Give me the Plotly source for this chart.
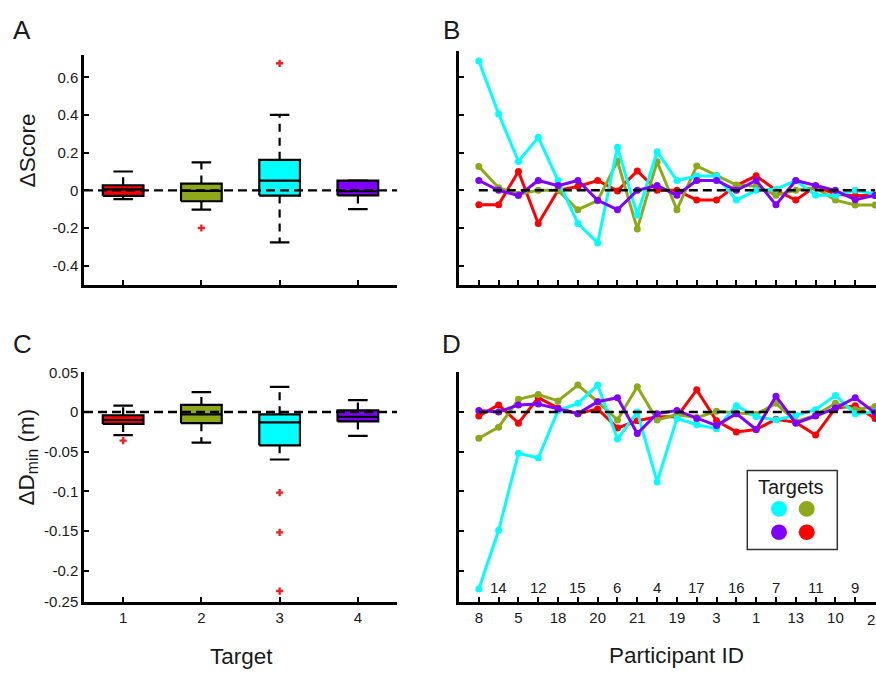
import plotly.graph_objects as go

# ---------------------------------------------------------------- data
targets = [1, 2, 3, 4]
target_colors = ["#FF0000", "#8FA81A", "#00FFFF", "#7F00FF"]

# Box statistics per target: delta score
score_lower = [-0.047, -0.102, -0.276, -0.100]
score_q1 = [-0.029, -0.058, -0.028, -0.027]
score_median = [0.005, -0.003, 0.052, -0.005]
score_q3 = [0.027, 0.036, 0.162, 0.052]
score_upper = [0.100, 0.148, 0.400, 0.052]
score_outliers = [[], [-0.200], [0.674], []]

# Box statistics per target: delta minimum distance (m)
dmin_lower = [-0.029, -0.0386, -0.0598, -0.030]
dmin_q1 = [-0.015, -0.014, -0.0419, -0.0118]
dmin_median = [-0.010, -0.003, -0.013, -0.006]
dmin_q3 = [-0.004, 0.009, -0.0028, 0.002]
dmin_upper = [0.008, 0.025, 0.0317, 0.015]
dmin_outliers = [[-0.036], [], [-0.1016, -0.1516, -0.2256], []]

participants = ["8", "14", "5", "12", "18", "15", "20", "6", "21", "4", "19",
                "17", "3", "16", "1", "7", "13", "11", "10", "9", "2"]

# Per-participant delta score, one list per target
score_t1 = [-0.076, -0.076, 0.100, -0.176, 0.000, 0.020, 0.052, -0.003, 0.103, 0.000, 0.000,
            -0.052, -0.052, 0.025, 0.077, 0.000, -0.052, 0.022, -0.021, -0.029, -0.026]
score_t2 = [0.126, 0.014, -0.021, 0.000, 0.000, -0.103, -0.055, 0.155, -0.205, 0.152, -0.103,
            0.129, 0.079, 0.028, 0.022, -0.026, 0.000, 0.014, -0.052, -0.078, -0.078]
score_t3 = [0.686, 0.405, 0.153, 0.281, 0.052, -0.176, -0.279, 0.229, -0.131, 0.205, 0.052,
            0.076, 0.076, -0.052, 0.000, 0.005, 0.052, -0.026, -0.026, 0.000, -0.021]
score_t4 = [0.052, 0.000, -0.028, 0.052, 0.025, 0.052, -0.053, -0.103, 0.000, 0.025, -0.026,
            0.052, 0.052, 0.000, 0.052, -0.077, 0.052, 0.025, 0.000, -0.050, -0.027]

# Per-participant delta minimum distance (m), one list per target
dmin_t1 = [-0.005, 0.009, -0.014, 0.018, 0.005, -0.002, 0.004, -0.020, -0.011, -0.006, -0.006,
           0.028, -0.011, -0.025, -0.022, -0.009, -0.013, -0.029, 0.005, 0.008, -0.008]
dmin_t2 = [-0.033, -0.019, 0.016, 0.022, 0.014, 0.034, 0.013, -0.010, 0.032, -0.010, -0.003,
           -0.007, 0.001, -0.001, -0.003, 0.011, -0.012, -0.004, 0.011, 0.003, 0.007]
dmin_t3 = [-0.223, -0.149, -0.052, -0.058, 0.002, 0.011, 0.034, -0.034, 0.000, -0.088, -0.008,
           -0.016, -0.021, 0.008, -0.006, -0.010, -0.004, 0.003, 0.021, -0.002, 0.000]
dmin_t4 = [0.002, 0.000, 0.009, 0.010, 0.004, -0.002, 0.013, 0.018, -0.027, -0.002, 0.002,
           -0.008, -0.017, -0.002, -0.022, 0.020, -0.014, -0.005, 0.005, 0.018, -0.001]

score_ticks = [-0.4, -0.2, 0, 0.2, 0.4, 0.6]
score_ticktext = ["-0.4", "-0.2", "0", "0.2", "0.4", "0.6"]
dmin_ticks = [0.05, 0, -0.05, -0.1, -0.15, -0.2]
dmin_ticktext = ["0.05", "0", "-0.05", "-0.1", "-0.15", "-0.2"]

# ---------------------------------------------------------------- layout helpers
W, H = 876, 680
FONT = "Liberation Sans, Arial, sans-serif"
TXT = "#1a1a1a"
ZERO_DASH = "9px,5px"


def px(x):
    return x / W


def py(y):
    return 1 - y / H


fig = go.Figure()

BOX_HW = 0.26
CAP_HW = 0.125


def add_boxes(xa, ya, lower, q1, med, q3, upper, outliers):
    for i, t in enumerate(targets):
        c = target_colors[i]
        # whiskers (dashed)
        fig.add_trace(go.Scatter(x=[t, t, None, t, t], y=[q3[i], upper[i], None, q1[i], lower[i]],
                                 mode="lines", line=dict(color="black", width=2.2, dash="8px,6px"),
                                 xaxis=xa, yaxis=ya, hoverinfo="skip", showlegend=False))
        # caps
        fig.add_trace(go.Scatter(x=[t - CAP_HW, t + CAP_HW, None, t - CAP_HW, t + CAP_HW],
                                 y=[upper[i], upper[i], None, lower[i], lower[i]],
                                 mode="lines", line=dict(color="black", width=2.2),
                                 xaxis=xa, yaxis=ya, hoverinfo="skip", showlegend=False))
        # box
        fig.add_trace(go.Scatter(x=[t - BOX_HW, t + BOX_HW, t + BOX_HW, t - BOX_HW, t - BOX_HW],
                                 y=[q1[i], q1[i], q3[i], q3[i], q1[i]],
                                 mode="lines", fill="toself", fillcolor=c,
                                 line=dict(color="black", width=2.2),
                                 xaxis=xa, yaxis=ya, hoverinfo="skip", showlegend=False))
        # median
        fig.add_trace(go.Scatter(x=[t - BOX_HW, t + BOX_HW], y=[med[i], med[i]],
                                 mode="lines", line=dict(color="black", width=2.2),
                                 xaxis=xa, yaxis=ya, hoverinfo="skip", showlegend=False))
        if outliers[i]:
            fig.add_trace(go.Scatter(x=[t] * len(outliers[i]), y=outliers[i], mode="markers",
                                     marker=dict(symbol="cross", size=6, color="#EE2222"),
                                     xaxis=xa, yaxis=ya, hoverinfo="skip", showlegend=False))
    fig.add_trace(go.Scatter(x=[0.5, 4.5], y=[0, 0], mode="lines",
                             line=dict(color="black", width=2.4, dash=ZERO_DASH),
                             xaxis=xa, yaxis=ya, hoverinfo="skip", showlegend=False))


def add_lines(xa, ya, series):
    xs = list(range(1, len(participants) + 1))
    for i in range(len(series)):
        fig.add_trace(go.Scatter(x=xs, y=series[i], mode="lines+markers",
                                 line=dict(color=target_colors[i], width=3),
                                 marker=dict(color=target_colors[i], size=7),
                                 xaxis=xa, yaxis=ya, hoverinfo="skip", showlegend=False))
    fig.add_trace(go.Scatter(x=[1, len(participants)], y=[0, 0], mode="lines",
                             line=dict(color="black", width=2.4, dash=ZERO_DASH),
                             xaxis=xa, yaxis=ya, hoverinfo="skip", showlegend=False))


add_boxes("x", "y", score_lower, score_q1, score_median, score_q3, score_upper, score_outliers)
add_lines("x2", "y2", [score_t1, score_t2, score_t3, score_t4])
add_boxes("x3", "y3", dmin_lower, dmin_q1, dmin_median, dmin_q3, dmin_upper, dmin_outliers)
add_lines("x4", "y4", [dmin_t1, dmin_t2, dmin_t3, dmin_t4])

# ---------------------------------------------------------------- axes
common = dict(showline=True, linecolor="black", linewidth=2.5, ticks="inside", ticklen=5,
              tickwidth=2, tickcolor="black", showgrid=False, zeroline=False,
              tickfont=dict(family=FONT, size=15, color=TXT))

left_dom = [px(84), px(397)]
right_dom = [px(459), 1.0]
top_dom_a = [py(283), py(47)]
top_dom_b = [py(283), py(43.3)]
bot_dom = [py(608.3), py(372.7)]

dmin_bottom = -0.2395
n_part = len(participants)
odd_pos = list(range(1, n_part + 1, 2))
even_pos = list(range(2, n_part + 1, 2))
# the last participant sits on the panel's right edge; its label is placed separately
below_pos = odd_pos[:-1]
edge_pos = odd_pos[-1]
minor_ticks = dict(ticks="inside", ticklen=5, tickwidth=2, tickcolor="black",
                   tickvals=even_pos + [edge_pos])

fig.update_layout(
    width=W, height=H, margin=dict(l=0, r=0, t=0, b=0),
    paper_bgcolor="white", plot_bgcolor="white",
    font=dict(family=FONT, color=TXT),
    xaxis=dict(common, domain=left_dom, anchor="y", range=[0.5, 4.5],
               tickvals=targets, showticklabels=False),
    yaxis=dict(common, domain=top_dom_a, anchor="x", range=[-0.502, 0.719],
               tickvals=score_ticks, ticktext=score_ticktext),
    xaxis2=dict(common, domain=right_dom, anchor="y2", range=[0, 21.05],
                tickvals=list(range(1, n_part + 1)), showticklabels=False),
    yaxis2=dict(common, domain=top_dom_b, anchor="x2", range=[-0.502, 0.738],
                tickvals=score_ticks, showticklabels=False),
    xaxis3=dict(common, domain=left_dom, anchor="y3", range=[0.5, 4.5],
                tickvals=targets, ticktext=[str(t) for t in targets]),
    yaxis3=dict(common, domain=bot_dom, anchor="x3", range=[dmin_bottom, 0.05],
                tickvals=dmin_ticks + [dmin_bottom], ticktext=dmin_ticktext + ["-0.25"]),
    xaxis4=dict(common, domain=right_dom, anchor="y4", range=[0, 21.05],
                tickvals=below_pos, ticktext=[participants[p - 1] for p in below_pos],
                minor=minor_ticks),
    yaxis4=dict(common, domain=bot_dom, anchor="x4", range=[dmin_bottom, 0.05],
                tickvals=dmin_ticks, showticklabels=False),
)

# ---------------------------------------------------------------- text
ann = []
for letter, (lx, ly) in zip("ABCD", [(21.5, 22), (451, 22), (22, 344), (451, 344)]):
    ann.append(dict(text=letter, x=px(lx), y=py(ly), xref="paper", yref="paper",
                    showarrow=False, xanchor="center", yanchor="middle",
                    font=dict(family=FONT, size=26, color=TXT)))

TITLE_SIZE = 22.5
ann.append(dict(text="ΔScore", x=px(27), y=py(145), xref="paper", yref="paper",
                textangle=-90, showarrow=False, xanchor="center", yanchor="middle",
                font=dict(family=FONT, size=TITLE_SIZE, color=TXT)))
ann.append(dict(text="ΔD<sub>min</sub> (m)", x=px(27), y=py(460), xref="paper", yref="paper",
                textangle=-90, showarrow=False, xanchor="center", yanchor="middle",
                font=dict(family=FONT, size=TITLE_SIZE, color=TXT)))
ann.append(dict(text="Target", x=px(241.5), y=py(664), xref="paper", yref="paper",
                showarrow=False, xanchor="center", yanchor="middle",
                font=dict(family=FONT, size=TITLE_SIZE, color=TXT)))
ann.append(dict(text="Participant ID", x=px(676), y=py(663), xref="paper", yref="paper",
                showarrow=False, xanchor="center", yanchor="middle",
                font=dict(family=FONT, size=TITLE_SIZE, color=TXT)))

# participant labels for even positions sit just above the axis
for p in even_pos:
    ann.append(dict(text=participants[p - 1], x=p, y=py(593), xref="x4", yref="paper",
                    showarrow=False, xanchor="center", yanchor="middle",
                    font=dict(family=FONT, size=15, color=TXT)))
# label of the participant on the right edge, kept inside the page
ann.append(dict(text=participants[edge_pos - 1], x=1.0, y=py(626), xref="paper", yref="paper",
                showarrow=False, xanchor="right", yanchor="middle", borderpad=0,
                font=dict(family=FONT, size=15, color=TXT)))

# legend of target colours
ann.append(dict(text="Targets", x=px(791), y=py(490), xref="paper", yref="paper",
                showarrow=False, xanchor="center", yanchor="middle",
                font=dict(family=FONT, size=20, color=TXT)))
fig.update_layout(annotations=ann)

shapes = [dict(type="rect", xref="paper", yref="paper", x0=px(747.3), x1=px(837.3),
               y0=py(554.3), y1=py(473.3), line=dict(color="#333333", width=1.5),
               fillcolor="white", layer="above")]
legend_pos = {2: (779, 512.7), 1: (806.7, 512.7), 3: (779, 536.7), 0: (806.7, 536.7)}
for i, (cx, cy) in legend_pos.items():
    r = 8
    shapes.append(dict(type="circle", xref="paper", yref="paper",
                       x0=px(cx - r), x1=px(cx + r), y0=py(cy + r), y1=py(cy - r),
                       fillcolor=target_colors[i], line=dict(width=0), layer="above"))
fig.update_layout(shapes=shapes)

fig.write_html("out.html")
